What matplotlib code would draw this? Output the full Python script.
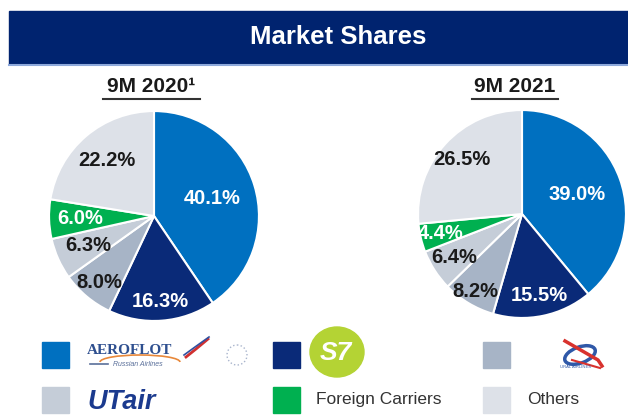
import matplotlib

matplotlib.use("Agg")
import matplotlib.pyplot as plt
from matplotlib.patches import Rectangle, Circle, Ellipse, Arc
import numpy as np

plt.rcParams["font.family"] = ["Liberation Sans", "DejaVu Sans"]

# data
carriers = ["Aeroflot", "S7", "Ural Airlines", "UTair", "Foreign Carriers", "Others"]
shares_2020 = [40.1, 16.3, 8.0, 6.3, 6.0, 22.2]
shares_2021 = [39.0, 15.5, 8.2, 6.4, 4.4, 26.5]
labels_2020 = ["40.1%", "16.3%", "8.0%", "6.3%", "6.0%", "22.2%"]
labels_2021 = ["39.0%", "15.5%", "8.2%", "6.4%", "4.4%", "26.5%"]
titles = ["9M 2020\u00b9", "9M 2021"]

colors = ["#0070C0", "#0A2A78", "#A7B4C6", "#C5CDD8", "#00B050", "#DDE1E8"]
text_colors = ["white", "white", "#1a1a1a", "#1a1a1a", "white", "#1a1a1a"]
label_r_2020 = [0.58, 0.82, 0.82, 0.69, 0.70, 0.69]
label_r_2021 = [0.56, 0.80, 0.87, 0.78, 0.80, 0.78]

W, H = 628, 415
fig = plt.figure(figsize=(W / 100, H / 100), dpi=100)


def px_axes(cx, cy, r):
    return fig.add_axes([(cx - r) / W, 1 - (cy + r) / H, 2 * r / W, 2 * r / H])


def draw_pie(ax, values, labels, radii):
    wedges, _ = ax.pie(values, colors=colors, startangle=90, counterclock=False,
                       radius=1, wedgeprops=dict(edgecolor="white", linewidth=1.5))
    for w, lab, r, tc in zip(wedges, labels, radii, text_colors):
        ang = np.deg2rad((w.theta1 + w.theta2) / 2)
        ax.text(r * np.cos(ang), r * np.sin(ang), lab, ha="center", va="center",
                fontsize=14.5, fontweight="bold", color=tc)
    ax.set_xlim(-1.01, 1.01)
    ax.set_ylim(-1.01, 1.01)
    ax.set_aspect("equal")
    ax.axis("off")


draw_pie(px_axes(154, 216, 106), shares_2020, labels_2020, label_r_2020)
draw_pie(px_axes(522, 214, 105), shares_2021, labels_2021, label_r_2021)

# overlay in pixel coordinates for the header and legend
ov = fig.add_axes([0, 0, 1, 1], zorder=-1)
ov.set_xlim(0, W)
ov.set_ylim(H, 0)
ov.axis("off")

ov.add_patch(Rectangle((9, 11), W - 9, 53, color="#00236F"))
ov.plot([9, W], [65, 65], color="#8EA9DB", lw=1.5)
ov.text(338, 37, "Market Shares", ha="center", va="center", color="white",
        fontsize=18.5, fontweight="bold")

for x, t, x0, x1 in [(151, titles[0], 103, 200), (515, titles[1], 472, 558)]:
    ov.text(x, 87, t, ha="center", va="center", fontsize=15, fontweight="bold",
            color="#1a1a1a")
    ov.plot([x0, x1], [99, 99], color="#333333", lw=1.5)

# legend squares
sq_pos = [(42, 342), (273, 342), (483, 342), (42, 387), (273, 387), (483, 387)]
for (x, y), c in zip(sq_pos, colors):
    ov.add_patch(Rectangle((x, y), 27, 26, color=c))

# Aeroflot logo
ov.text(87, 350, "AEROFLOT", ha="left", va="center", fontsize=11,
        fontweight="bold", color="#2E4F8F", family="Liberation Serif")
ov.text(113, 364, "Russian Airlines", ha="left", va="center", fontsize=5,
        style="italic", color="#5A6F9A")
ov.plot([90, 108], [364, 364], color="#5A6F9A", lw=1.2)
ov.add_patch(Arc((140, 362), 80, 14, theta1=180, theta2=360, color="#E8883A", lw=1.2))
ov.plot([186, 196, 208], [357, 349, 339], color="#D03030", lw=2)
ov.plot([184, 195, 209], [355, 347, 337], color="#3050A0", lw=1.2)
ov.add_patch(Circle((237, 355), 10, fill=False, ec="#A8B4CC", lw=1, ls=":"))

# S7 logo
ov.add_patch(Ellipse((337, 352), 54, 50, color="#B4D334"))
ov.text(336, 353, "S7", ha="center", va="center", fontsize=19,
        fontweight="bold", style="italic", color="white")

# Ural Airlines logo
ov.add_patch(Ellipse((580, 355), 32, 16, angle=-20, fill=False, ec="#2F58A8", lw=2.5))
ov.plot([565, 598, 602], [341, 360, 366], color="#D8322E", lw=2.5)
ov.plot([572, 600], [360, 368], color="#D8322E", lw=1.5)
ov.text(575, 367, "URAL AIRLINES", ha="center", va="center", fontsize=3,
        color="#2F58A8")

# UTair logo
ov.text(87, 402, "UTair", ha="left", va="center", fontsize=19.5,
        fontweight="bold", style="italic", color="#1B3A8E")

ov.text(316, 399, "Foreign Carriers", ha="left", va="center", fontsize=12.5,
        color="#333333")
ov.text(527, 399, "Others", ha="left", va="center", fontsize=12.5,
        color="#333333")

fig.savefig("out.png", dpi=100)
